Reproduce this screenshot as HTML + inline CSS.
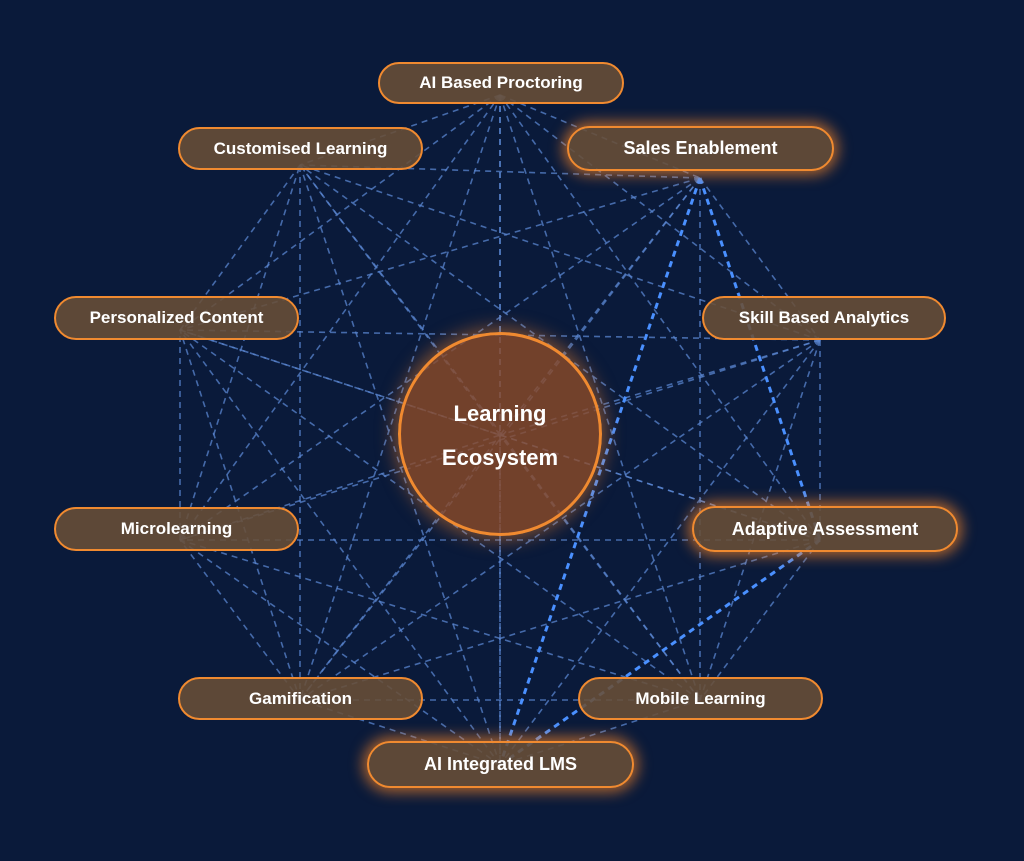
<!DOCTYPE html>
<html><head><meta charset="utf-8"><style>
html,body{margin:0;padding:0;background:#0a1a3a;}
#w{position:relative;width:1024px;height:861px;overflow:hidden;background:#0a1a3a;font-family:"Liberation Sans",sans-serif;}
svg{position:absolute;left:0;top:0;}
.n{position:absolute;box-sizing:border-box;border:2.5px solid #f08a30;border-radius:24px;background:rgba(105,78,55,0.88);color:#fff;font-weight:bold;font-size:17px;display:flex;align-items:center;justify-content:center;}
.g{box-shadow:0 0 14px 4px rgba(240,130,40,0.7);}
#c{position:absolute;left:398px;top:332px;width:204px;height:204px;border-radius:50%;box-sizing:border-box;border:3px solid #f08a30;background:rgba(140,75,40,0.8);box-shadow:0 0 18px 4px rgba(240,130,40,0.5);color:#fff;font-weight:bold;font-size:22px;display:flex;align-items:center;justify-content:center;text-align:center;line-height:44px;padding-top:4px;}
</style></head><body><div id="w">
<svg id="s" width="1024" height="861"></svg>
<div id="c">Learning<br>Ecosystem</div>
<div class="n" style="left:378px;top:62px;width:246px;height:42px">AI Based Proctoring</div>
<div class="n" style="left:178px;top:127px;width:245px;height:43px">Customised Learning</div>
<div class="n g" style="left:567px;top:126px;width:267px;height:45px;font-size:18px">Sales Enablement</div>
<div class="n" style="left:54px;top:296px;width:245px;height:44px">Personalized Content</div>
<div class="n" style="left:702px;top:296px;width:244px;height:44px">Skill Based Analytics</div>
<div class="n" style="left:54px;top:507px;width:245px;height:44px">Microlearning</div>
<div class="n g" style="left:692px;top:506px;width:266px;height:46px;font-size:18px">Adaptive Assessment</div>
<div class="n" style="left:178px;top:677px;width:245px;height:43px">Gamification</div>
<div class="n" style="left:578px;top:677px;width:245px;height:43px">Mobile Learning</div>
<div class="n g" style="left:367px;top:741px;width:267px;height:47px;font-size:18px">AI Integrated LMS</div>
</div>
<script>
var P=[[500,95],[700,178],[820,340],[820,540],[700,700],[500,765],[300,700],[180,540],[180,330],[300,165],[500,435]];
var s=document.getElementById('s'),h='';
for(var i=0;i<P.length;i++)for(var j=i+1;j<P.length;j++){
 h+='<line x1="'+P[i][0]+'" y1="'+P[i][1]+'" x2="'+P[j][0]+'" y2="'+P[j][1]+'" stroke="#5a86d0" stroke-opacity="0.75" stroke-width="1.6" stroke-dasharray="6 5"/>';}
[[1,3],[1,5],[3,5]].forEach(function(e){var a=P[e[0]],b=P[e[1]];
 h+='<line x1="'+a[0]+'" y1="'+a[1]+'" x2="'+b[0]+'" y2="'+b[1]+'" stroke="#4a90ff" stroke-width="3" stroke-dasharray="6 5"/>';});
s.innerHTML=h;
</script>
</body></html>
